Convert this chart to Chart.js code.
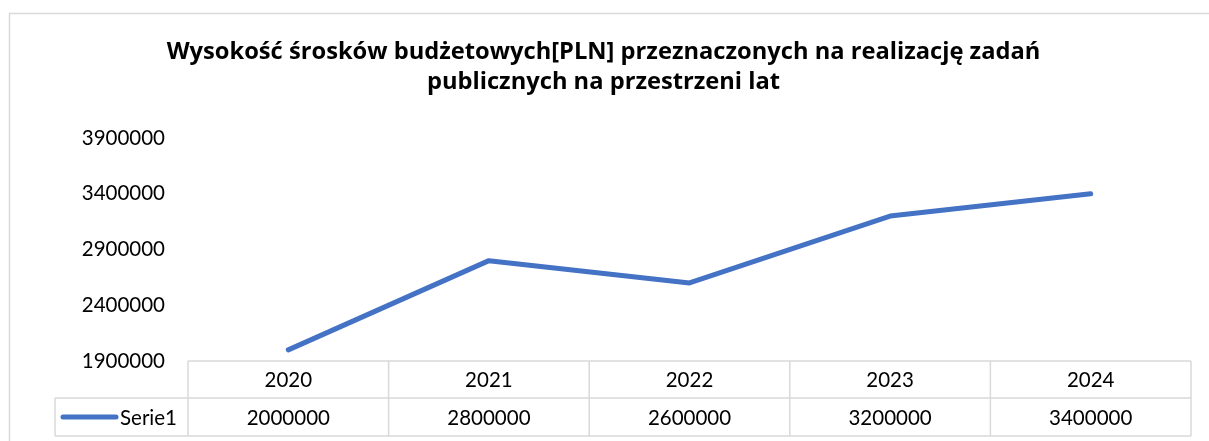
<!DOCTYPE html>
<html>
<head>
<meta charset="utf-8">
<script src="https://cdn.jsdelivr.net/npm/chart.js@4.4.1/dist/chart.umd.min.js"></script>
<style>
  html, body { margin: 0; padding: 0; background: #fff; }
  #wrap { width: 1209px; height: 441px; }
</style>
</head>
<body>
<div id="wrap"><canvas id="c" width="1209" height="441"></canvas></div>
<script>
const categories = ['2020', '2021', '2022', '2023', '2024'];
const serie1 = [2000000, 2800000, 2600000, 3200000, 3400000];
const yTicks = [1900000, 2400000, 2900000, 3400000, 3900000];
const seriesName = 'Serie1';
const titleLines = ['Wysokość śrosków budżetowych[PLN] przeznaczonych na realizację zadań', 'publicznych na przestrzeni lat'];

const FONT = 'Lato';
const TITLE_FONT = 'Open Sans';
const LINE_COLOR = '#4472C4';
const GRID_COLOR = '#d9d9d9';

const frame = {
  id: 'frame',
  beforeDraw(chart) {
    const ctx = chart.ctx;
    ctx.save();
    ctx.strokeStyle = GRID_COLOR;
    ctx.lineWidth = 1.5;
    ctx.beginPath();
    ctx.moveTo(9.5, chart.height + 5);
    ctx.lineTo(9.5, 13.5);
    ctx.lineTo(chart.width + 5, 13.5);
    ctx.stroke();
    ctx.restore();
  }
};

const dataTable = {
  id: 'dataTable',
  afterDraw(chart) {
    const ctx = chart.ctx;
    const x = chart.scales.x;
    const area = chart.chartArea;
    const top = area.bottom;
    const mid = top + 37;
    const bottom = top + 75;
    const legendLeft = 55;
    const half = (x.getPixelForValue(1) - x.getPixelForValue(0)) / 2;
    ctx.save();
    ctx.strokeStyle = GRID_COLOR;
    ctx.lineWidth = 1.5;
    ctx.beginPath();
    ctx.moveTo(area.left, top); ctx.lineTo(area.right, top);
    ctx.moveTo(legendLeft, mid); ctx.lineTo(area.right, mid);
    ctx.moveTo(legendLeft, bottom); ctx.lineTo(area.right, bottom);
    ctx.moveTo(legendLeft, mid); ctx.lineTo(legendLeft, bottom);
    for (let i = 0; i < categories.length; i++) {
      const l = x.getPixelForValue(i) - half;
      ctx.moveTo(l, top); ctx.lineTo(l, bottom);
    }
    const r = x.getPixelForValue(categories.length - 1) + half;
    ctx.moveTo(r, top); ctx.lineTo(r, bottom);
    ctx.stroke();

    ctx.fillStyle = '#000';
    ctx.font = '20.5px ' + FONT;
    ctx.textAlign = 'center';
    ctx.textBaseline = 'middle';
    for (let i = 0; i < categories.length; i++) {
      const cx = x.getPixelForValue(i);
      ctx.fillText(categories[i], cx, (top + mid) / 2 + 1);
      ctx.fillText(String(serie1[i]), cx, (mid + bottom) / 2 + 1);
    }
    const ly = (mid + bottom) / 2;
    ctx.strokeStyle = LINE_COLOR;
    ctx.lineWidth = 5;
    ctx.lineCap = 'round';
    ctx.beginPath();
    ctx.moveTo(63, ly); ctx.lineTo(116, ly);
    ctx.stroke();
    ctx.textAlign = 'left';
    ctx.fillText(seriesName, 120, ly + 1);
    ctx.restore();
  }
};

new Chart(document.getElementById('c'), {
  type: 'line',
  data: {
    labels: categories,
    datasets: [{
      label: seriesName,
      data: serie1,
      borderColor: LINE_COLOR,
      backgroundColor: LINE_COLOR,
      borderWidth: 5,
      borderCapStyle: 'round',
      borderJoinStyle: 'round',
      pointRadius: 0,
      tension: 0,
      fill: false
    }]
  },
  options: {
    responsive: false,
    animation: false,
    devicePixelRatio: 1,
    layout: { padding: { left: 16, right: 18, top: 0, bottom: 80 } },
    plugins: {
      legend: { display: false },
      tooltip: { enabled: false },
      title: {
        display: true,
        text: titleLines,
        color: '#000',
        font: { family: TITLE_FONT, size: 23.7, weight: 'bold', lineHeight: 1.266 },
        padding: { top: 37, bottom: 41 }
      }
    },
    scales: {
      x: {
        display: false,
        offset: true
      },
      y: {
        min: yTicks[0],
        max: yTicks[yTicks.length - 1],
        afterBuildTicks(scale) { scale.ticks = yTicks.map(v => ({ value: v })); },
        afterFit(scale) { scale.width = 172; },
        grid: { display: false, drawTicks: false },
        border: { display: false },
        ticks: {
          padding: 23,
          color: '#000',
          font: { family: FONT, size: 20.5 },
          callback: v => String(v)
        }
      }
    }
  },
  plugins: [frame, dataTable]
});
</script>
</body>
</html>
